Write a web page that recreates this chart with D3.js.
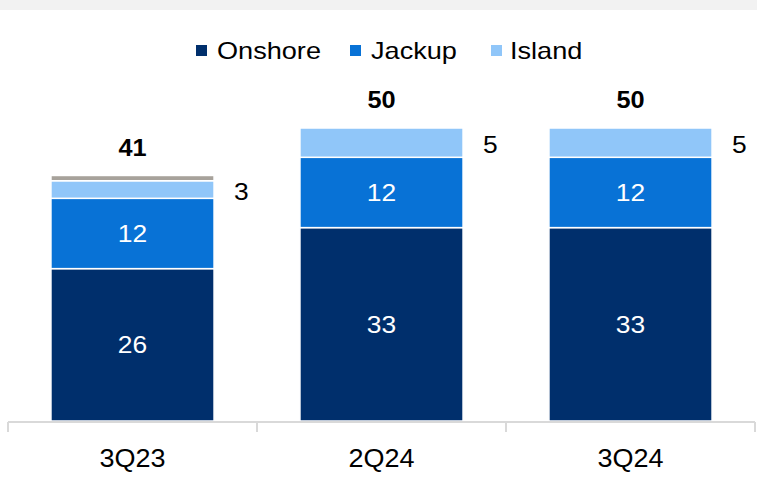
<!DOCTYPE html>
<html>
<head>
<meta charset="utf-8">
<script src="https://cdn.jsdelivr.net/npm/d3@7"></script>
<style>
  html, body { margin: 0; padding: 0; background: #fff; }
  svg { display: block; font-family: "Liberation Sans", Arial, Helvetica, sans-serif; }
</style>
</head>
<body>
<svg id="chart" width="757" height="484"></svg>
<script>
// Rig count by type, per quarter
const quarters = ["3Q23", "2Q24", "3Q24"];
const onshore  = [26, 33, 33];
const jackup   = [12, 12, 12];
const island   = [3, 5, 5];
const other    = [0.9, 0, 0];
const totals   = [41, 50, 50];

const seriesNames = ["Onshore", "Jackup", "Island"];
const seriesColors = {
  Onshore: "#002f6c",
  Jackup: "#0872d6",
  Island: "#90c6f9",
  Other: "#a7a29b"
};

const svg = d3.select("#chart");
const W = 757;
const STRETCH = 1.1; // slightly wide lettering

// text placed at (px, py) and widened horizontally around its anchor
function label(parent, px, py, str, opts) {
  const t = parent.append("g").attr("transform", `translate(${px},${py}) scale(${opts.stretch || STRETCH},1)`)
    .append("text")
    .attr("x", 0).attr("y", 0)
    .attr("dy", "0.36em")
    .attr("text-anchor", opts.anchor || "middle")
    .attr("font-size", opts.size || 24)
    .attr("font-weight", opts.weight || "normal")
    .attr("fill", opts.fill || "#000")
    .text(str);
  return t;
}

// light grey band along the top edge
svg.append("rect").attr("x", 0).attr("y", 0).attr("width", W).attr("height", 10).attr("fill", "#f2f2f2");

const x = d3.scaleBand().domain(quarters).range([8, 755]).padding(0);
const y = d3.scaleLinear().domain([0, 50]).range([421, 128]);
const barW = x.bandwidth() * 0.655;

const rows = quarters.map((q, i) => ({
  quarter: q, Onshore: onshore[i], Jackup: jackup[i], Island: island[i], Other: other[i], total: totals[i]
}));

const stack = d3.stack().keys(["Onshore", "Jackup", "Island", "Other"]);
const layers = stack(rows);

const barX = q => x(q) + (x.bandwidth() - barW) / 2;

const g = svg.append("g");
layers.forEach(layer => {
  g.selectAll(null)
    .data(layer.filter(d => d[1] - d[0] > 0))
    .join("rect")
    .attr("x", d => barX(d.data.quarter))
    .attr("y", d => y(d[1]))
    .attr("width", barW)
    .attr("height", d => y(d[0]) - y(d[1]))
    .attr("fill", seriesColors[layer.key])
    .attr("stroke", "#fff")
    .attr("stroke-width", 1.5);
});

// values inside the Onshore and Jackup segments
layers.filter(l => l.key === "Onshore" || l.key === "Jackup").forEach(layer => {
  layer.forEach(d => {
    label(g, barX(d.data.quarter) + barW / 2, (y(d[0]) + y(d[1])) / 2, d[1] - d[0], { fill: "#fff", size: 24 });
  });
});

// Island values to the right of the bar
const islandLayer = layers.find(l => l.key === "Island");
islandLayer.forEach(d => {
  label(g, barX(d.data.quarter) + barW + 20, (y(d[0]) + y(d[1])) / 2 + 2, d[1] - d[0], { anchor: "start", size: 24 });
});

// totals above each stacked bar
const stackTop = i => d3.max(layers, l => l[i][1]);
rows.forEach((d, i) => {
  label(g, barX(d.quarter) + barW / 2, y(stackTop(i)) - 28, d.total, { size: 23, weight: "bold" });
});

// category axis
const axisG = svg.append("g").attr("transform", "translate(0,422)");
axisG.append("line")
  .attr("x1", 8).attr("x2", 755).attr("y1", 0).attr("y2", 0)
  .attr("stroke", "#d9d9d9").attr("stroke-width", 2);
const tickXs = quarters.map(q => x(q)).concat([x.range()[1]]);
axisG.selectAll(null)
  .data(tickXs)
  .join("line")
  .attr("x1", d => d).attr("x2", d => d)
  .attr("y1", 0).attr("y2", 10)
  .attr("stroke", "#d9d9d9").attr("stroke-width", 2);
quarters.forEach(q => {
  label(axisG, x(q) + x.bandwidth() / 2, 36, q, { size: 25, stretch: 1.08 });
});

// legend
const legendX = [196, 350, 491];
seriesNames.forEach((name, i) => {
  const lg = svg.append("g").attr("transform", `translate(${legendX[i]},0)`);
  lg.append("rect").attr("x", 0).attr("y", 45).attr("width", 11).attr("height", 11).attr("fill", seriesColors[name]);
  label(lg, name === "Island" ? 19 : 21, 50, name, { anchor: "start", size: 24, stretch: 1.13 });
});
</script>
</body>
</html>
